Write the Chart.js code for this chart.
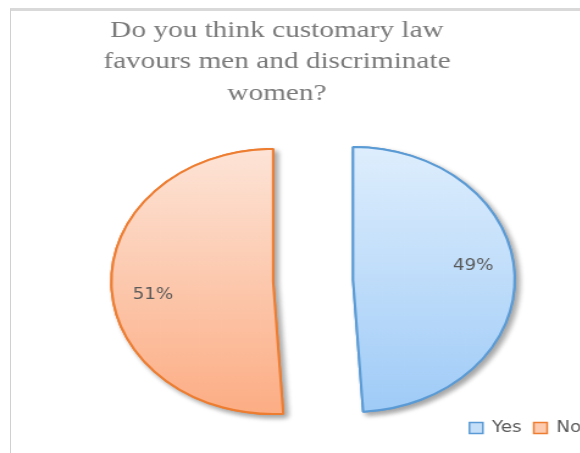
<!DOCTYPE html>
<html><head><meta charset="utf-8">
<script src="https://cdn.jsdelivr.net/npm/chart.js@4.4.1/dist/chart.umd.min.js"></script>
<style>
html,body{margin:0;padding:0;background:#fff;overflow:hidden;width:580px;height:453px;}
#frame{position:absolute;left:10px;top:8px;width:600px;height:460px;border-top:3px solid #d9d9d9;border-left:1px solid #d0d0d0;}
#stretch{position:absolute;left:0;top:0;width:500px;height:453px;transform:scaleX(1.22);transform-origin:0 0;}
</style></head><body>
<div id="frame"></div>
<div id="stretch"><canvas id="c" width="500" height="453"></canvas></div>
<script>
// ---- data ----
const categories = ['Yes', 'No'];
const values = [49, 51];
const titleLines = ['Do you think customary law', 'favours men and discriminate', 'women?'];

// ---- styles ----
const topColors = ['#deeefd', '#fde4d7'];
const bottomColors = ['#9fcbf7', '#fcad84'];
const borderColors = ['#5b9bd5', '#ed7d31'];
const legendFills = ['#c6dff9', '#fccbb0'];
const PIE_RADIUS = 132.5;
const EXPLODE_PX = 32.8;
const SHIFT_X = 13.4;
const LABEL_RADIUS = 0.75;
const LABEL_ANGLE_SHIFT = -6 * Math.PI / 180;

function gradientFill(context) {
  const chart = context.chart;
  const area = chart.chartArea;
  const i = context.dataIndex;
  if (!area) return topColors[i];
  const cy = (area.top + area.bottom) / 2;
  const g = chart.ctx.createLinearGradient(0, cy - PIE_RADIUS, 0, cy + PIE_RADIUS);
  g.addColorStop(0, topColors[i]);
  g.addColorStop(1, bottomColors[i]);
  return g;
}

const shiftPlugin = {
  id: 'pieShift',
  afterLayout(chart) {
    const a = chart.chartArea;
    a.left += SHIFT_X;
    a.right += SHIFT_X;
  }
};

function sliceShift(arc) {
  const p = arc.getProps(['startAngle', 'endAngle'], true);
  const half = (p.startAngle + p.endAngle) / 2;
  return { dx: Math.cos(half) * EXPLODE_PX, dy: Math.sin(half) * EXPLODE_PX };
}

const explodePlugin = {
  id: 'explodedSlices',
  beforeDatasetsDraw(chart) {
    const ctx = chart.ctx;
    const arcs = chart.getDatasetMeta(0).data;
    const drawAll = () => arcs.forEach(arc => {
      const s = sliceShift(arc);
      ctx.save();
      ctx.translate(s.dx, s.dy);
      arc.draw(ctx);
      ctx.restore();
    });
    ctx.save();
    ctx.shadowColor = 'rgba(0,0,0,0.35)';
    ctx.shadowBlur = 5;
    ctx.shadowOffsetX = 3;
    ctx.shadowOffsetY = 3;
    drawAll();
    ctx.restore();
    drawAll();
    return false;
  },
  afterDraw(chart) {
    const ctx = chart.ctx;
    const meta = chart.getDatasetMeta(0);
    const total = values.reduce((s, v) => s + v, 0);
    ctx.save();
    ctx.font = '15px "DejaVu Sans"';
    ctx.fillStyle = '#595959';
    ctx.textAlign = 'center';
    ctx.textBaseline = 'middle';
    meta.data.forEach((arc, i) => {
      const p = arc.getProps(['x', 'y', 'startAngle', 'endAngle', 'outerRadius'], true);
      const s = sliceShift(arc);
      const la = (p.startAngle + p.endAngle) / 2 + LABEL_ANGLE_SHIFT;
      const px = p.x + s.dx + Math.cos(la) * p.outerRadius * LABEL_RADIUS;
      const py = p.y + s.dy + Math.sin(la) * p.outerRadius * LABEL_RADIUS;
      ctx.fillText(Math.round(values[i] / total * 100) + '%', px, py);
    });
    ctx.restore();
  }
};

new Chart(document.getElementById('c'), {
  type: 'pie',
  data: {
    labels: categories,
    datasets: [{
      data: values,
      backgroundColor: gradientFill,
      borderColor: borderColors,
      borderWidth: 2,
      offset: 0,
      hoverOffset: 0,
      clip: false
    }]
  },
  options: {
    responsive: false,
    animation: false,
    devicePixelRatio: 1,
    radius: PIE_RADIUS,
    layout: { padding: { left: -32.4, right: 13.6, top: 0, bottom: 7.5 } },
    plugins: {
      title: {
        display: true,
        text: titleLines,
        color: '#7a7a7a',
        font: { family: 'Liberation Serif', size: 24, weight: 'normal', lineHeight: 1.3 },
        padding: { top: 15.4, bottom: 41.5 }
      },
      legend: {
        position: 'bottom',
        align: 'end',
        labels: {
          boxWidth: 11,
          boxHeight: 11,
          padding: 10,
          color: '#595959',
          font: { family: 'DejaVu Sans', size: 15 },
          generateLabels(chart) {
            const base = (Chart.overrides.pie || Chart.overrides.doughnut).plugins.legend.labels.generateLabels;
            const items = base(chart);
            items.forEach((it, i) => {
              it.fillStyle = legendFills[i];
              it.strokeStyle = borderColors[i];
              it.lineWidth = 1.5;
              it.fontColor = '#595959';
            });
            return items;
          }
        }
      },
      tooltip: { enabled: false }
    }
  },
  plugins: [shiftPlugin, explodePlugin]
});
</script>
</body></html>
